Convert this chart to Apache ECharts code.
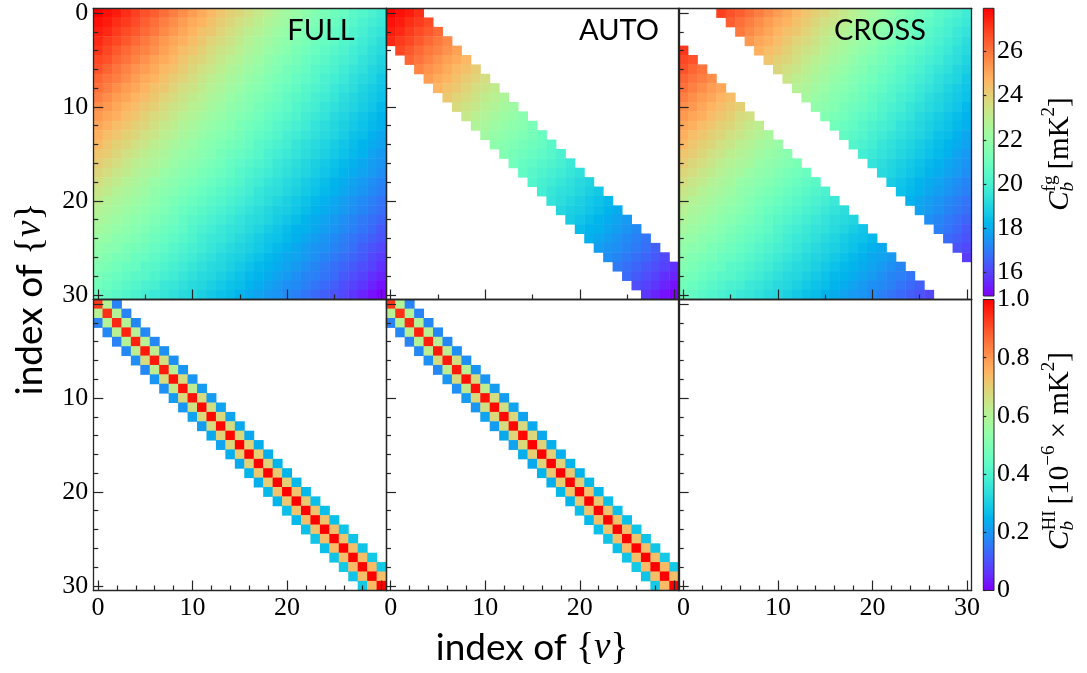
<!DOCTYPE html>
<html>
<head>
<meta charset="utf-8">
<script src="https://cdn.jsdelivr.net/npm/echarts@6/dist/echarts.min.js"></script>
<style>
  html, body { margin: 0; padding: 0; background: #ffffff; }
  #chart { width: 1087px; height: 673px; }
</style>
</head>
<body>
<div id="chart"></div>
<script>
// ---------------------------------------------------------------------------
// Data: frequency-channel covariance matrices, 31 x 31, row = i, column = j
// ---------------------------------------------------------------------------
const channels = [0,1,2,3,4,5,6,7,8,9,10,11,12,13,14,15,16,17,18,19,20,21,22,23,24,25,26,27,28,29,30];

// foreground covariance C_b^fg [mK^2]
const fgRows = [
  [27.96,27.7,27.5,27.2,26.9,26.6,26.4,26.1,25.8,25.5,25.2,24.9,24.6,24.3,24.0,23.8,23.5,23.2,22.9,22.6,22.3,22.1,21.8,21.5,21.3,21.0,20.8,20.5,20.3,20.1,19.8],
  [27.7,27.5,27.2,27.0,26.7,26.4,26.1,25.8,25.5,25.2,24.9,24.7,24.4,24.1,23.8,23.5,23.3,23.0,22.7,22.4,22.2,21.9,21.6,21.4,21.1,20.9,20.6,20.4,20.1,19.9,19.7],
  [27.5,27.3,27.0,26.7,26.5,26.2,25.9,25.6,25.3,25.0,24.7,24.4,24.2,23.9,23.6,23.3,23.0,22.8,22.5,22.2,22.0,21.7,21.4,21.2,21.0,20.7,20.5,20.2,20.0,19.7,19.5],
  [27.3,27.0,26.8,26.5,26.2,25.9,25.6,25.3,25.0,24.8,24.5,24.2,23.9,23.7,23.4,23.1,22.8,22.5,22.3,22.0,21.8,21.5,21.3,21.0,20.8,20.6,20.3,20.1,19.8,19.6,19.3],
  [27.1,26.8,26.5,26.2,25.9,25.7,25.4,25.1,24.8,24.5,24.3,24.0,23.7,23.4,23.2,22.9,22.6,22.4,22.1,21.9,21.6,21.3,21.1,20.9,20.6,20.4,20.2,19.9,19.7,19.4,19.2],
  [26.8,26.6,26.3,26.0,25.7,25.4,25.1,24.9,24.6,24.3,24.0,23.8,23.5,23.2,22.9,22.7,22.4,22.2,21.9,21.6,21.4,21.2,20.9,20.7,20.5,20.2,20.0,19.8,19.5,19.3,19.0],
  [26.6,26.3,26.0,25.7,25.4,25.2,24.9,24.6,24.4,24.1,23.8,23.5,23.3,23.0,22.7,22.5,22.2,22.0,21.7,21.5,21.2,21.0,20.8,20.5,20.3,20.1,19.8,19.6,19.4,19.1,18.9],
  [26.3,26.0,25.8,25.5,25.2,24.9,24.7,24.4,24.1,23.9,23.6,23.3,23.0,22.8,22.5,22.3,22.0,21.8,21.5,21.3,21.1,20.8,20.6,20.4,20.1,19.9,19.7,19.4,19.2,19.0,18.7],
  [26.1,25.8,25.5,25.2,25.0,24.7,24.4,24.2,23.9,23.6,23.4,23.1,22.8,22.6,22.3,22.1,21.8,21.6,21.4,21.1,20.9,20.7,20.4,20.2,20.0,19.7,19.5,19.3,19.0,18.8,18.6],
  [25.8,25.5,25.2,25.0,24.7,24.5,24.2,23.9,23.7,23.4,23.1,22.9,22.6,22.4,22.1,21.9,21.6,21.4,21.2,21.0,20.7,20.5,20.3,20.0,19.8,19.6,19.3,19.1,18.9,18.7,18.5],
  [25.5,25.3,25.0,24.7,24.5,24.2,24.0,23.7,23.4,23.2,22.9,22.7,22.4,22.2,21.9,21.7,21.5,21.2,21.0,20.8,20.6,20.3,20.1,19.9,19.6,19.4,19.2,19.0,18.8,18.6,18.3],
  [25.3,25.0,24.8,24.5,24.3,24.0,23.7,23.5,23.2,22.9,22.7,22.4,22.2,22.0,21.7,21.5,21.3,21.1,20.8,20.6,20.4,20.2,19.9,19.7,19.5,19.2,19.0,18.8,18.6,18.4,18.2],
  [25.0,24.8,24.5,24.3,24.0,23.8,23.5,23.2,23.0,22.7,22.5,22.2,22.0,21.8,21.6,21.3,21.1,20.9,20.7,20.4,20.2,20.0,19.8,19.5,19.3,19.1,18.9,18.7,18.5,18.3,18.1],
  [24.8,24.5,24.3,24.0,23.8,23.5,23.3,23.0,22.8,22.5,22.3,22.0,21.8,21.6,21.4,21.2,20.9,20.7,20.5,20.3,20.0,19.8,19.6,19.4,19.2,19.0,18.8,18.5,18.4,18.1,17.9],
  [24.6,24.3,24.0,23.8,23.5,23.3,23.0,22.8,22.5,22.3,22.1,21.8,21.6,21.4,21.2,21.0,20.8,20.5,20.3,20.1,19.9,19.6,19.4,19.2,19.0,18.8,18.6,18.4,18.2,18.0,17.8],
  [24.3,24.1,23.8,23.5,23.3,23.0,22.8,22.6,22.3,22.1,21.9,21.7,21.5,21.2,21.0,20.8,20.6,20.4,20.1,19.9,19.7,19.5,19.3,19.1,18.9,18.7,18.5,18.3,18.1,17.8,17.6],
  [24.1,23.8,23.6,23.3,23.0,22.8,22.6,22.4,22.1,21.9,21.7,21.5,21.3,21.1,20.8,20.6,20.4,20.2,20.0,19.7,19.5,19.3,19.1,18.9,18.7,18.5,18.3,18.1,17.9,17.7,17.5],
  [23.8,23.6,23.3,23.1,22.8,22.6,22.4,22.1,21.9,21.7,21.5,21.3,21.1,20.9,20.7,20.4,20.2,20.0,19.8,19.6,19.4,19.2,19.0,18.8,18.6,18.4,18.2,18.0,17.8,17.6,17.4],
  [23.6,23.3,23.1,22.8,22.6,22.4,22.1,21.9,21.7,21.5,21.3,21.1,20.9,20.7,20.5,20.3,20.0,19.8,19.6,19.4,19.2,19.0,18.8,18.6,18.4,18.2,18.0,17.8,17.6,17.4,17.2],
  [23.3,23.1,22.8,22.6,22.4,22.2,21.9,21.7,21.5,21.3,21.1,20.9,20.7,20.5,20.3,20.1,19.9,19.6,19.4,19.3,19.1,18.9,18.7,18.5,18.3,18.1,17.9,17.7,17.5,17.3,17.1],
  [23.1,22.8,22.6,22.4,22.2,22.0,21.8,21.5,21.3,21.1,20.9,20.7,20.5,20.3,20.1,19.9,19.7,19.5,19.3,19.1,18.9,18.7,18.5,18.3,18.1,17.9,17.7,17.5,17.3,17.1,16.9],
  [22.8,22.6,22.4,22.2,22.0,21.8,21.6,21.4,21.1,20.9,20.7,20.5,20.3,20.1,19.9,19.7,19.5,19.3,19.1,18.9,18.8,18.6,18.4,18.2,18.0,17.8,17.6,17.4,17.2,17.0,16.8],
  [22.6,22.4,22.2,22.0,21.8,21.6,21.4,21.2,21.0,20.7,20.5,20.3,20.1,19.9,19.7,19.5,19.3,19.2,19.0,18.8,18.6,18.4,18.2,18.0,17.8,17.6,17.4,17.2,17.0,16.8,16.6],
  [22.4,22.2,22.0,21.8,21.6,21.4,21.2,21.0,20.8,20.6,20.3,20.1,19.9,19.7,19.5,19.4,19.2,19.0,18.8,18.6,18.4,18.2,18.1,17.9,17.7,17.5,17.3,17.1,16.9,16.7,16.4],
  [22.1,22.0,21.7,21.6,21.4,21.2,21.0,20.8,20.6,20.4,20.2,19.9,19.7,19.6,19.4,19.2,19.0,18.8,18.6,18.5,18.3,18.1,17.9,17.7,17.5,17.3,17.1,16.9,16.7,16.5,16.3],
  [21.9,21.7,21.6,21.3,21.2,21.0,20.8,20.6,20.4,20.2,20.0,19.8,19.6,19.4,19.2,19.0,18.9,18.7,18.5,18.3,18.1,17.9,17.7,17.5,17.4,17.2,17.0,16.8,16.5,16.3,16.1],
  [21.7,21.5,21.3,21.2,20.9,20.8,20.6,20.4,20.2,20.0,19.8,19.6,19.4,19.2,19.0,18.9,18.7,18.5,18.3,18.1,17.9,17.8,17.6,17.4,17.2,17.0,16.8,16.6,16.4,16.1,15.9],
  [21.5,21.3,21.1,20.9,20.8,20.5,20.4,20.2,20.0,19.8,19.6,19.4,19.2,19.1,18.9,18.7,18.5,18.3,18.2,18.0,17.8,17.6,17.4,17.2,17.0,16.8,16.6,16.4,16.2,16.0,15.7],
  [21.3,21.1,20.9,20.7,20.5,20.4,20.2,20.0,19.8,19.6,19.4,19.2,19.1,18.9,18.7,18.5,18.3,18.2,18.0,17.8,17.6,17.4,17.2,17.1,16.9,16.7,16.4,16.2,16.0,15.7,15.5],
  [21.1,20.9,20.7,20.5,20.3,20.1,20.0,19.7,19.6,19.4,19.2,19.1,18.9,18.7,18.5,18.4,18.2,18.0,17.8,17.6,17.4,17.3,17.1,16.9,16.7,16.5,16.2,16.0,15.8,15.5,15.2],
  [20.9,20.7,20.5,20.3,20.1,19.9,19.7,19.6,19.4,19.2,19.1,18.9,18.7,18.5,18.4,18.2,18.0,17.8,17.6,17.5,17.3,17.1,16.9,16.7,16.5,16.3,16.1,15.8,15.5,15.2,14.92]
];

// 21cm signal covariance C_b^HI [1e-6 x mK^2]: non-zero only on a narrow band
const hiDiag   = [0.93,0.94,0.95,0.96,0.96,0.97,0.97,0.97,0.98,0.98,0.98,0.99,0.99,0.99,0.99,1.0,1.0,1.0,1.0,1.0,1.0,1.0,1.0,1.0,1.0,1.0,1.0,1.0,1.0,1.0,1.0];
const hiUpper1 = [0.60,0.60,0.60,0.61,0.61,0.62,0.66,0.61,0.67,0.62,0.67,0.66,0.68,0.67,0.68,0.69,0.70,0.69,0.71,0.70,0.72,0.71,0.72,0.72,0.73,0.72,0.73,0.73,0.74,0.73];
const hiLower1 = [0.61,0.60,0.61,0.60,0.62,0.67,0.62,0.67,0.63,0.68,0.66,0.68,0.67,0.69,0.68,0.70,0.69,0.71,0.70,0.72,0.71,0.72,0.73,0.72,0.73,0.74,0.73,0.74,0.73,0.74];
const hiUpper2 = [0.17,0.17,0.18,0.18,0.18,0.19,0.19,0.20,0.20,0.21,0.21,0.22,0.22,0.23,0.23,0.24,0.24,0.25,0.25,0.26,0.26,0.27,0.27,0.27,0.28,0.28,0.28,0.29,0.29];
const hiLower2 = [0.17,0.18,0.17,0.18,0.19,0.18,0.20,0.19,0.21,0.20,0.22,0.21,0.23,0.22,0.24,0.23,0.25,0.24,0.26,0.25,0.27,0.26,0.27,0.28,0.27,0.28,0.29,0.28,0.29];

// which entries each column shows: |i - j| <= band is "AUTO", the rest "CROSS"
const panelNames = ['FULL', 'AUTO', 'CROSS'];
const AUTO_BAND = 3;

// tick labels
const majorTicks = [0, 10, 20, 30];
const fgBarTicks = [16, 18, 20, 22, 24, 26];
const hiBarTicks = [0, 0.2, 0.4, 0.6, 0.8, 1.0];
const hiRange = [0, 1];

// ---------------------------------------------------------------------------
// Styling helpers
// ---------------------------------------------------------------------------
const FRAME = '#262626';
const SERIF = '"Liberation Serif", "DejaVu Serif", serif';
const SANS = 'Lato, "Liberation Sans", sans-serif';

// matplotlib "rainbow" colormap
function rainbow(t) {
  const c = [Math.abs(2 * t - 0.5), Math.sin(Math.PI * t), Math.cos(Math.PI * t / 2)];
  return 'rgb(' + c.map(v => Math.round(Math.max(0, Math.min(1, v)) * 255)).join(',') + ')';
}
const RAINBOW = [];
for (let k = 0; k <= 40; k++) RAINBOW.push(rainbow(k / 40));

function hiValue(i, j) {
  const d = j - i;
  if (d === 0) return hiDiag[i];
  if (d === 1) return hiUpper1[i];
  if (d === -1) return hiLower1[j];
  if (d === 2) return hiUpper2[i];
  if (d === -2) return hiLower2[j];
  return null;
}
function fgValue(i, j) { return fgRows[i][j]; }

function cellsFor(getter, panel) {
  const out = [];
  channels.forEach(i => channels.forEach(j => {
    const inBand = Math.abs(i - j) <= AUTO_BAND;
    if (panel === 'AUTO' && !inBand) return;
    if (panel === 'CROSS' && inBand) return;
    const v = getter(i, j);
    if (v === null || v === undefined) return;
    out.push([j, i, v]);
  }));
  return out;
}

let fgMin = Infinity, fgMax = -Infinity;
fgRows.forEach(row => row.forEach(v => { fgMin = Math.min(fgMin, v); fgMax = Math.max(fgMax, v); }));

// ---------------------------------------------------------------------------
// Layout of the 2 x 3 panel grid and the two colour bars
// ---------------------------------------------------------------------------
const PANEL_LEFT = [93.3, 386.0, 678.7];
const PANEL_TOP = [8.3, 299.5];
const PANEL_W = 293;
const PANEL_H = [291.2, 291.0];
const BAR_LEFT = 983.3, BAR_W = 10.7;
const BAR_TOP = [8.3, 299.5];
const BAR_H = [287.7, 291.0];

const CAT = channels.map(String);
const isMajor = i => i % 10 === 0;
const lineStyle = { color: FRAME, width: 1.3 };
const tickStyle = { color: FRAME, width: 1.2 };

const grids = [], xAxes = [], yAxes = [], series = [];
const fgSeries = [], hiSeries = [];

for (let r = 0; r < 2; r++) {
  for (let c = 0; c < 3; c++) {
    const g = grids.length;
    grids.push({ left: PANEL_LEFT[c], top: PANEL_TOP[r], width: PANEL_W, height: PANEL_H[r] });
    const minorStep = r === 0 ? 5 : 2;

    const xi = xAxes.length;
    xAxes.push({
      type: 'category', data: CAT, gridIndex: g, position: 'bottom', z: 10,
      axisLine: { show: true, onZero: false, lineStyle },
      axisTick: { show: true, inside: true, length: 10, alignWithLabel: true, interval: i => isMajor(i), lineStyle: tickStyle },
      axisLabel: {
        show: r === 1,
        interval: i => majorTicks.includes(i) && (c === 2 || i !== 30),
        fontFamily: SERIF, fontSize: 26, color: '#000', margin: 5
      },
      splitLine: { show: false }
    });
    xAxes.push({
      type: 'category', data: CAT, gridIndex: g, position: 'bottom', z: 10,
      axisLine: { show: false },
      axisTick: { show: true, inside: true, length: 5, alignWithLabel: true, interval: i => i % minorStep === 0 && !isMajor(i), lineStyle: tickStyle },
      axisLabel: { show: false }, splitLine: { show: false }
    });
    xAxes.push({
      type: 'category', data: CAT, gridIndex: g, position: 'top', z: 10,
      axisLine: { show: true, onZero: false, lineStyle },
      axisTick: { show: false }, axisLabel: { show: false }, splitLine: { show: false }
    });

    const yi = yAxes.length;
    yAxes.push({
      type: 'category', data: CAT, gridIndex: g, position: 'left', inverse: true, z: 10,
      axisLine: { show: true, onZero: false, lineStyle },
      axisTick: { show: true, inside: true, length: 10, alignWithLabel: true, interval: i => isMajor(i), lineStyle: tickStyle },
      axisLabel: {
        show: c === 0,
        interval: i => majorTicks.includes(i) && (r === 0 || i !== 0),
        fontFamily: SERIF, fontSize: 26, color: '#000', margin: 5
      },
      splitLine: { show: false }
    });
    yAxes.push({
      type: 'category', data: CAT, gridIndex: g, position: 'left', inverse: true, z: 10,
      axisLine: { show: false },
      axisTick: { show: true, inside: true, length: 5, alignWithLabel: true, interval: i => i % 2 === 0 && !isMajor(i), lineStyle: tickStyle },
      axisLabel: { show: false }, splitLine: { show: false }
    });
    yAxes.push({
      type: 'category', data: CAT, gridIndex: g, position: 'right', inverse: true, z: 10,
      axisLine: { show: true, onZero: false, lineStyle },
      axisTick: { show: false }, axisLabel: { show: false }, splitLine: { show: false }
    });

    const data = cellsFor(r === 0 ? fgValue : hiValue, panelNames[c]);
    (r === 0 ? fgSeries : hiSeries).push(series.length);
    series.push({
      type: 'heatmap', xAxisIndex: xi, yAxisIndex: yi, data,
      progressive: 0, animation: false, silent: true,
      emphasis: { disabled: true }
    });
  }
}

// colour bars: a gradient strip on a value axis carrying the ticks
function colorBar(k, range, ticks, fmt) {
  const g = grids.length;
  grids.push({ left: BAR_LEFT, top: BAR_TOP[k], width: BAR_W, height: BAR_H[k] });
  const xi = xAxes.length;
  xAxes.push({ type: 'value', gridIndex: g, min: 0, max: 1, show: false });
  const yi = yAxes.length;
  yAxes.push({
    type: 'value', gridIndex: g, position: 'right', min: range[0], max: range[1], z: 10,
    axisLine: { show: false },
    axisTick: { show: true, inside: false, length: 3, customValues: ticks, lineStyle: tickStyle },
    axisLabel: { show: true, customValues: ticks,
      formatter: fmt, fontFamily: SERIF, fontSize: 26, color: '#000', margin: 3 },
    splitLine: { show: false }
  });
  const stops = RAINBOW.map((col, n) => ({ offset: n / (RAINBOW.length - 1), color: col }));
  series.push({
    type: 'custom', xAxisIndex: xi, yAxisIndex: yi, silent: true, animation: false, z: 3,
    data: [[0, range[0], range[1]]],
    encode: { x: 0, y: [1, 2] },
    renderItem: (params, api) => {
      const lo = api.coord([0, api.value(1)]);
      const hi = api.coord([1, api.value(2)]);
      return {
        type: 'rect',
        shape: { x: lo[0], y: hi[1], width: hi[0] - lo[0], height: lo[1] - hi[1] },
        style: { fill: new echarts.graphic.LinearGradient(0, 1, 0, 0, stops), stroke: FRAME, lineWidth: 1 }
      };
    }
  });
}
colorBar(0, [fgMin, fgMax], fgBarTicks, v => String(Math.round(v)));
colorBar(1, hiRange, hiBarTicks, v => (v === 0 ? '0' : v.toFixed(1)));

// ---------------------------------------------------------------------------
// Text: axis titles, panel names and colour-bar labels with sub/superscripts
// ---------------------------------------------------------------------------
const measureCtx = document.createElement('canvas').getContext('2d');
function textWidth(str, font) { measureCtx.font = font; return measureCtx.measureText(str).width; }

function textEl(x, y, text, font) {
  return { type: 'text', x, y, style: { text, font, fill: '#000', align: 'left', verticalAlign: 'middle' } };
}

// tokens laid out left to right; "stack" tokens share the x of the previous one
function mathLabel(tokens, cx, cy, rotation) {
  const children = [];
  let x = 0, lastStart = 0;
  tokens.forEach(tok => {
    const font = (tok.italic ? 'italic ' : '') + tok.size + 'px ' + tok.family;
    const w = textWidth(tok.text, font);
    let start;
    if (tok.stack) { start = lastStart; x = Math.max(x, start + w); }
    else { start = x + (tok.gap || 0); x = start + w; }
    lastStart = start;
    children.push(textEl(start, tok.dy || 0, tok.text, font));
  });
  children.forEach(ch => { ch.x -= x / 2; });
  return { type: 'group', x: cx, y: cy, rotation: rotation || 0, children };
}

const axisTitle = [
  { text: 'index of ', size: 37, family: SANS },
  { text: '{', size: 37, family: SERIF, dy: 1 },
  { text: 'ν', size: 37, family: SERIF, italic: true },
  { text: '}', size: 37, family: SERIF, dy: 1 }
];
const fgLabel = [
  { text: 'C', size: 29, family: SERIF, italic: true },
  { text: 'fg', size: 19, family: SERIF, dy: -10 },
  { text: 'b', size: 19, family: SERIF, italic: true, dy: 8, stack: true },
  { text: '[mK', size: 29, family: SERIF, gap: 6 },
  { text: '2', size: 19, family: SERIF, dy: -11 },
  { text: ']', size: 29, family: SERIF }
];
const hiLabel = [
  { text: 'C', size: 29, family: SERIF, italic: true },
  { text: 'HI', size: 19, family: SERIF, dy: -10 },
  { text: 'b', size: 19, family: SERIF, italic: true, dy: 8, stack: true },
  { text: '[10', size: 29, family: SERIF, gap: 6 },
  { text: '−6', size: 19, family: SERIF, dy: -11 },
  { text: ' × mK', size: 29, family: SERIF },
  { text: '2', size: 19, family: SERIF, dy: -11 },
  { text: ']', size: 29, family: SERIF }
];

const panelLabelPos = [[321, 31], [619, 31], [880, 31]];
const graphics = [
  mathLabel(axisTitle, 532, 648, 0),
  mathLabel(axisTitle, 30, 299, Math.PI / 2),
  mathLabel(fgLabel, 1060, 154, Math.PI / 2),
  mathLabel(hiLabel, 1060, 451, Math.PI / 2)
];
panelNames.forEach((name, c) => {
  graphics.push({
    type: 'text', x: panelLabelPos[c][0], y: panelLabelPos[c][1], z: 20,
    style: { text: name, font: '29px ' + SANS, fill: '#000', align: 'center', verticalAlign: 'middle' }
  });
});

const chart = echarts.init(document.getElementById('chart'), null, { renderer: 'canvas' });
chart.setOption({
  backgroundColor: '#ffffff',
  animation: false,
  grid: grids,
  xAxis: xAxes,
  yAxis: yAxes,
  visualMap: [
    { type: 'continuous', show: false, seriesIndex: fgSeries, dimension: 2, min: fgMin, max: fgMax, inRange: { color: RAINBOW } },
    { type: 'continuous', show: false, seriesIndex: hiSeries, dimension: 2, min: hiRange[0], max: hiRange[1], inRange: { color: RAINBOW } }
  ],
  series,
  graphic: graphics
});
</script>
</body>
</html>
